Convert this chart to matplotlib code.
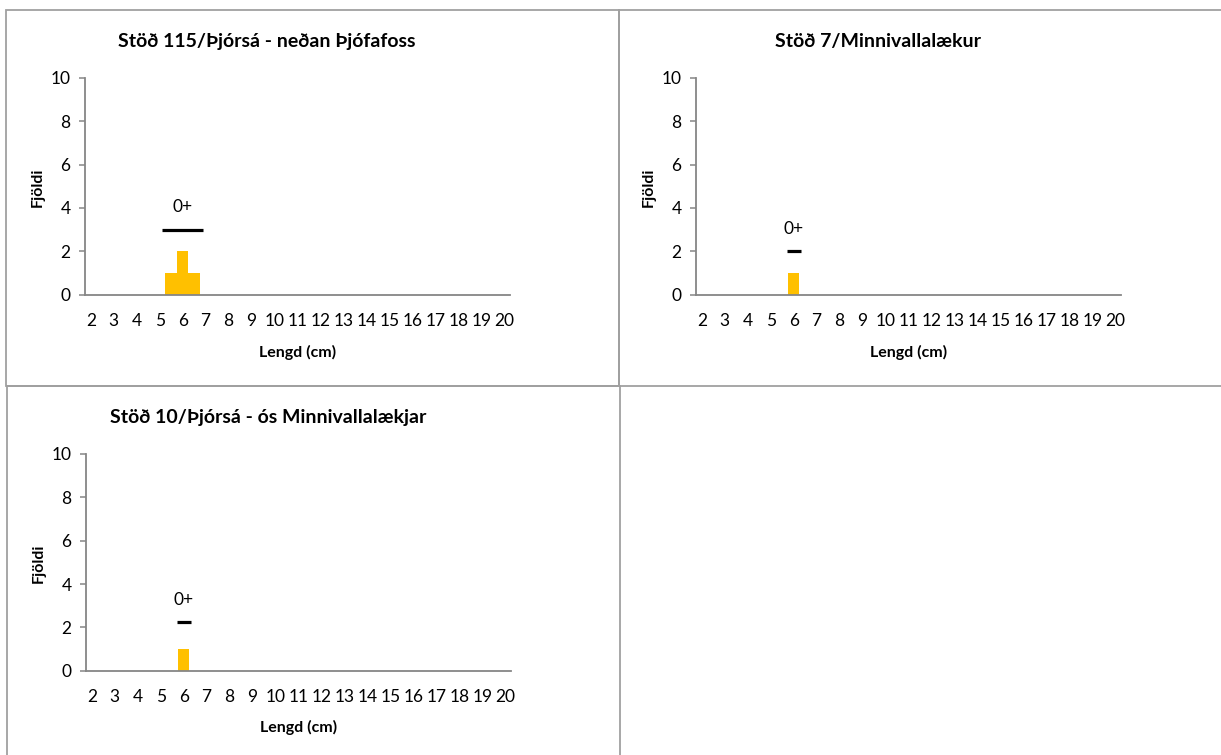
import matplotlib
matplotlib.use("Agg")
import matplotlib.pyplot as plt
from matplotlib.patches import Rectangle

plt.rcParams['font.family'] = ['Lato', 'DejaVu Sans']

# Length classes (cm), half-cm bins
lengths = [2.0, 2.5, 3.0, 3.5, 4.0, 4.5, 5.0, 5.5, 6.0, 6.5, 7.0, 7.5, 8.0, 8.5,
           9.0, 9.5, 10.0, 10.5, 11.0, 11.5, 12.0, 12.5, 13.0, 13.5, 14.0, 14.5,
           15.0, 15.5, 16.0, 16.5, 17.0, 17.5, 18.0, 18.5, 19.0, 19.5, 20.0]

counts_115 = [0, 0, 0, 0, 0, 0, 0, 1, 2, 1, 0, 0, 0, 0, 0, 0, 0, 0, 0,
              0, 0, 0, 0, 0, 0, 0, 0, 0, 0, 0, 0, 0, 0, 0, 0, 0, 0]
counts_7 = [0, 0, 0, 0, 0, 0, 0, 0, 1, 0, 0, 0, 0, 0, 0, 0, 0, 0, 0,
            0, 0, 0, 0, 0, 0, 0, 0, 0, 0, 0, 0, 0, 0, 0, 0, 0, 0]
counts_10 = [0, 0, 0, 0, 0, 0, 0, 0, 1, 0, 0, 0, 0, 0, 0, 0, 0, 0, 0,
             0, 0, 0, 0, 0, 0, 0, 0, 0, 0, 0, 0, 0, 0, 0, 0, 0, 0]

titles = ["Stöð 115/Þjórsá - neðan Þjófafoss",
          "Stöð 7/Minnivallalækur",
          "Stöð 10/Þjórsá - ós Minnivallalækjar"]

# Age group 0+: mean length, half range and marker height
age_label = "0+"
age_mean = [6.0, 6.0, 6.0]
age_half = [0.9, 0.3, 0.3]
age_y = [3.0, 2.0, 2.25]

xticks = list(range(2, 21))
yticks = [0, 2, 4, 6, 8, 10]

W, H = 1221, 755
fig = plt.figure(figsize=(W / 100, H / 100), dpi=100)

border = "#a0a0a0"
def frame(x0, y0, x1, y1):
    fig.add_artist(Rectangle((x0 / W, 1 - y1 / H), (x1 - x0) / W, (y1 - y0) / H,
                             transform=fig.transFigure, fill=False,
                             edgecolor=border, linewidth=1.3))

frame(6, 10, 619, 386)
frame(619, 10, 1228, 386)
frame(7, 386, 620, 765)

axis_gray = "#868686"
panels = [
    (85, 77.7, 510, 294.7, counts_115),
    (696, 77.7, 1121, 294.7, counts_7),
    (86, 454, 511, 670.7, counts_10),
]

for i, (l, t, r, b, counts) in enumerate(panels):
    ax = fig.add_axes([l / W, 1 - b / H, (r - l) / W, (b - t) / H])
    ax.bar(lengths, counts, width=0.5, color="#FFC000", edgecolor="none", zorder=2)
    ax.hlines(age_y[i], age_mean[i] - age_half[i], age_mean[i] + age_half[i],
              color="black", linewidth=2.3, zorder=3)
    ax.annotate(age_label, (age_mean[i], age_y[i]), xytext=(0, 16),
                textcoords="offset points", ha="center", va="center", fontsize=12.5)
    ax.set_xlim(1.75, 20.25)
    ax.set_ylim(0, 10)
    ax.set_xticks(xticks)
    ax.set_xticklabels([str(v) for v in xticks])
    ax.set_yticks(yticks)
    for s in ("top", "right"):
        ax.spines[s].set_visible(False)
    for s in ("left", "bottom"):
        ax.spines[s].set_color(axis_gray)
        ax.spines[s].set_linewidth(1.3)
    ax.tick_params(axis="y", direction="out", length=4.5, width=1.1,
                   color=axis_gray, pad=6, labelsize=12.5)
    ax.tick_params(axis="x", length=0, pad=13, labelsize=12.5)
    ax.text(0.428, 1.169, titles[i], transform=ax.transAxes, ha="center",
            va="center", fontsize=14, fontweight="bold")
    ax.text(0.499, -0.264, "Lengd (cm)", transform=ax.transAxes, ha="center",
            va="center", fontsize=11.5, fontweight="bold")
    ax.text(-0.111, 0.496, "Fjöldi", transform=ax.transAxes, ha="center",
            va="center", rotation=90, fontsize=11.5, fontweight="bold")

fig.savefig("out.png", dpi=100)
